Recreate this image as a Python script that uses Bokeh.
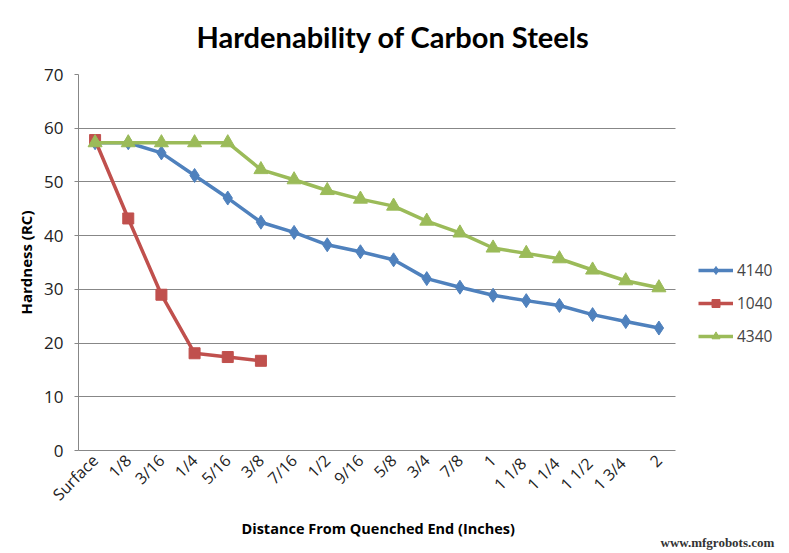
import math
from bokeh.plotting import figure
from bokeh.models import Range1d, Legend, LegendItem, Title, SingleIntervalTicker, FixedTicker
from bokeh.embed import file_html
from bokeh.resources import INLINE

categories = ["Surface", "1/8", "3/16", "1/4", "5/16", "3/8", "7/16", "1/2", "9/16",
              "5/8", "3/4", "7/8", "1", "1  1/8", "1  1/4", "1  1/2", "1  3/4", "2"]
s4140 = [57.3, 57.3, 55.4, 51.2, 47.0, 42.5, 40.6, 38.3, 37.0, 35.5, 32.0, 30.4, 28.9,
         27.9, 27.0, 25.3, 24.0, 22.8]
s1040_cats = ["Surface", "1/8", "3/16", "1/4", "5/16", "3/8"]
s1040 = [57.8, 43.2, 29.0, 18.1, 17.4, 16.7]
s4340 = [57.3, 57.3, 57.3, 57.3, 57.3, 52.3, 50.4, 48.4, 46.8, 45.5, 42.7, 40.5, 37.7,
         36.7, 35.7, 33.6, 31.6, 30.3]
series_names = ["4140", "1040", "4340"]
title_text = "Hardenability of Carbon Steels"
x_title = "Distance From Quenched End (Inches)"
y_title = "Hardness (RC)"
watermark = "www.mfgrobots.com"

BLUE = "#4F81BD"
RED = "#C0504D"
GREEN = "#9BBB59"
GRID = "#878787"
FONT = "Open Sans"

W, H = 787, 551
LEFT, TOP, BOTTOM = 78, 71, 101

# category positions on the x scale
xpos = {c: i for i, c in enumerate(categories)}
x_all = [xpos[c] for c in categories]
x_1040 = [xpos[c] for c in s1040_cats]
n = len(categories)
plot_w = 597.0            # width of the data area in px
legend_room = (W - LEFT) - plot_w
x_start, x_end = -0.5, n - 0.5
x_extra = legend_room / (plot_w / n)

p = figure(width=W, height=H, x_range=Range1d(x_start, x_end + x_extra),
           y_range=Range1d(0, 70), output_backend="svg", toolbar_location=None,
           min_border_left=LEFT, min_border_right=0, min_border_top=TOP,
           min_border_bottom=BOTTOM)
p.outline_line_color = None
p.background_fill_color = "white"
p.border_fill_color = "white"

p.title = Title(text=title_text, text_font="Lato", text_font_style="bold",
                text_font_size="29px", align="left", offset=118,
                vertical_align="top", standoff=37, text_color="black")

p.xgrid.grid_line_color = None
p.ygrid.grid_line_color = GRID
p.ygrid.grid_line_width = 1
p.ygrid.cross_bounds = (x_start, x_end)
p.yaxis.ticker = SingleIntervalTicker(interval=10)
p.xaxis.ticker = FixedTicker(ticks=x_all)
p.xaxis.major_label_overrides = {i: c for i, c in enumerate(categories)}
p.xaxis.bounds = (x_start, x_end)

for ax in (p.xaxis, p.yaxis):
    ax.axis_line_color = GRID
    ax.major_tick_line_color = GRID
    ax.minor_tick_line_color = None
    ax.major_tick_in = 0
    ax.major_tick_out = 4
    ax.major_label_text_font = FONT
    ax.major_label_text_color = "#222222"
    ax.axis_label_text_font = FONT
    ax.axis_label_text_font_style = "bold"
    ax.axis_label_text_font_size = "15px"
    ax.axis_label_text_color = "black"
p.yaxis.major_label_text_font_size = "17px"
p.xaxis.major_label_text_font_size = "16px"
p.xaxis.major_tick_line_color = None
p.xaxis.major_tick_out = 0
p.xaxis.major_label_orientation = math.pi / 4
p.xaxis.major_label_standoff = 7
p.yaxis.major_label_standoff = 11
p.yaxis.axis_label = y_title
p.yaxis.axis_label_standoff = 5

lw = 3.5
l1 = p.line(x_all, s4140, line_color=BLUE, line_width=lw)
m1 = p.scatter(x_all, s4140, marker="diamond", size=14, fill_color=BLUE, line_color=BLUE)
l2 = p.line(x_1040, s1040, line_color=RED, line_width=lw)
m2 = p.scatter(x_1040, s1040, marker="square", size=11, fill_color=RED, line_color=RED)
l3 = p.line(x_all, s4340, line_color=GREEN, line_width=lw)
m3 = p.scatter(x_all, s4340, marker="triangle", size=14, fill_color=GREEN, line_color=GREEN)

legend = Legend(items=[LegendItem(label=series_names[0], renderers=[l1, m1]),
                       LegendItem(label=series_names[1], renderers=[l2, m2]),
                       LegendItem(label=series_names[2], renderers=[l3, m3])],
                location=(620, 103), margin=0, padding=5, spacing=11,
                glyph_width=35, glyph_height=20, label_height=20, label_standoff=4,
                label_text_font=FONT, label_text_font_size="15.5px",
                border_line_color=None, background_fill_alpha=0)
p.add_layout(legend, "center")

p.add_layout(Title(text=x_title, text_font=FONT, text_font_style="bold",
                   text_font_size="14.5px", align="left", offset=163, standoff=6,
                   vertical_align="top", text_color="black"), "below")
p.add_layout(Title(text=watermark, text_font="Liberation Serif", text_font_size="13px",
                   align="left", offset=582, standoff=-16, vertical_align="top",
                   text_color="#333333"), "below")

open("out.html", "w").write(file_html(p, INLINE))
